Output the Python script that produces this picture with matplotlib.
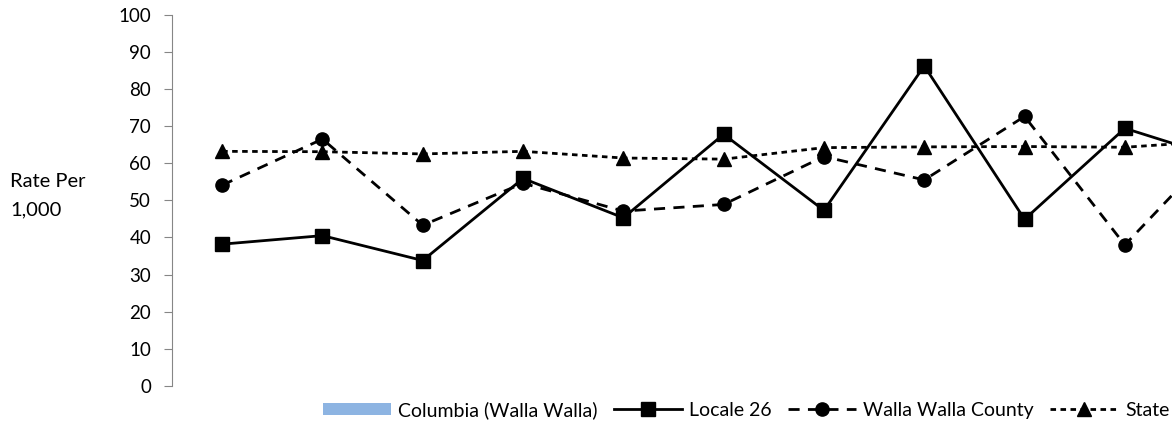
import numpy as np
import matplotlib.pyplot as plt

plt.rcParams['font.family'] = ['Lato', 'DejaVu Sans']

# values (last point lies beyond the right edge)
categories = list(range(11))
columbia = [np.nan] * 11
locale26 = [38.2, 40.5, 33.8, 55.9, 45.3, 67.8, 47.3, 86.2, 44.9, 69.4, 60.9]
ww_county = [54.1, 66.5, 43.3, 54.6, 47.1, 48.9, 61.8, 55.5, 72.6, 38.0, 66.4]
state = [63.2, 63.1, 62.5, 63.2, 61.4, 61.1, 64.2, 64.4, 64.5, 64.3, 66.1]

fig = plt.figure(figsize=(11.72, 4.23), dpi=100)
ax = fig.add_axes([172/1172, 37/423, 1 - 172/1172, 371.3/423])

x = np.arange(len(categories))
ax.bar(x, columbia, color='#8DB4E2', width=0.6, label='Columbia (Walla Walla)')
ax.plot(x, locale26, color='black', lw=2, marker='s', ms=10, label='Locale 26')
ax.plot(x, ww_county, color='black', lw=2, ls=(0, (4, 3)), marker='o', ms=9.5,
        label='Walla Walla County')
ax.plot(x, state, color='black', lw=2, ls=(0, (2, 1.6)), marker='^', ms=9.5,
        label='State')

ax.set_ylim(0, 100)
ax.set_yticks(range(0, 101, 10))
ax.set_xlim(-0.5, 9.47)
ax.set_xticks([])
for s in ['top', 'right', 'bottom']:
    ax.spines[s].set_visible(False)
ax.spines['left'].set_color('#868686')
ax.tick_params(axis='y', length=6, color='#868686', labelsize=13.5, pad=9)

fig.text(10/1172, 0.537, 'Rate Per\n1,000', ha='left', va='center',
         fontsize=14.5, linespacing=1.8)

h, l = ax.get_legend_handles_labels()
order = [l.index(n) for n in ['Columbia (Walla Walla)', 'Locale 26',
                              'Walla Walla County', 'State']]
h = [h[i] for i in order]
l = [l[i] for i in order]
fig.legend(h, l, loc='center right', bbox_to_anchor=(1.013, 0.031), ncol=4,
           frameon=False, fontsize=14, handlelength=3.5, handleheight=0.57,
           columnspacing=0.82, handletextpad=0.38)

fig.savefig('out.png', dpi=100)
